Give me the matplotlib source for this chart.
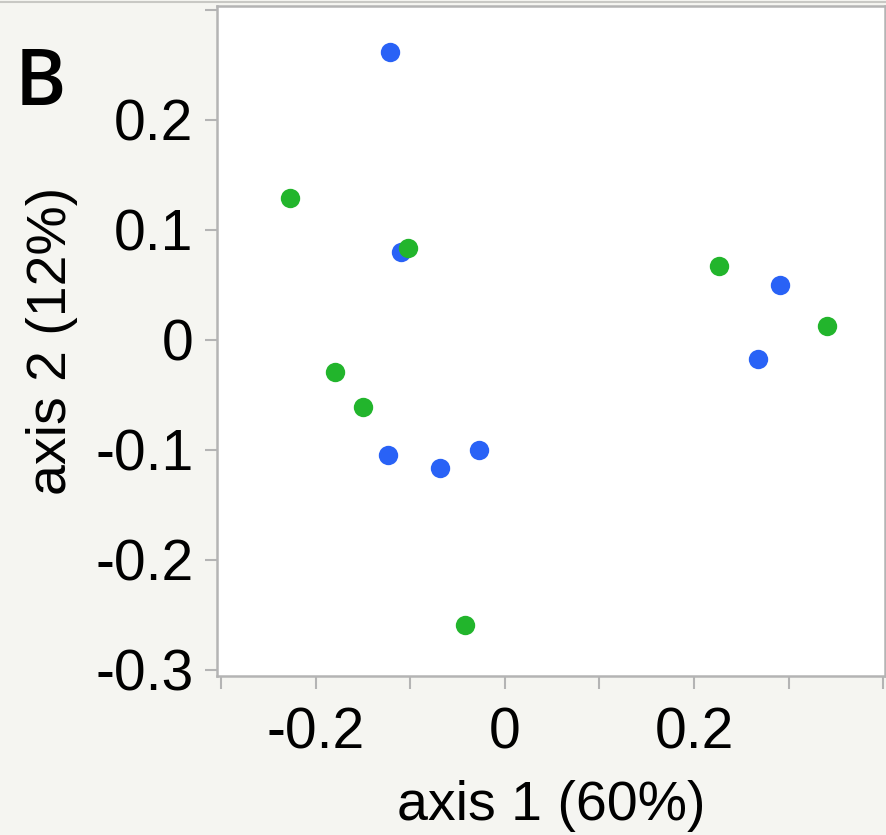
import matplotlib.pyplot as plt
from matplotlib.lines import Line2D

# axis 1 / axis 2 coordinates
blue_x = [-0.121, -0.110, -0.123, -0.068, -0.027, 0.291, 0.268]
blue_y = [0.262, 0.080, -0.105, -0.116, -0.100, 0.050, -0.0175]
green_x = [-0.2266, -0.1025, -0.1795, -0.150, -0.042, 0.227, 0.341]
green_y = [0.129, 0.0834, -0.0288, -0.061, -0.259, 0.067, 0.0125]

x_ticks = [-0.3, -0.2, -0.1, 0, 0.1, 0.2, 0.3, 0.4]
x_labels = ["", "-0.2", "", "0", "", "0.2", "", ""]
y_ticks = [0.3, 0.2, 0.1, 0, -0.1, -0.2, -0.3]
y_labels = ["", "0.2", "0.1", "0", "-0.1", "-0.2", "-0.3"]

bg = "#f5f5f1"
spine = "#b4b4b4"

plt.rcParams['font.family'] = ['Liberation Sans', 'DejaVu Sans']

fig = plt.figure(figsize=(8.86, 8.35), dpi=100, facecolor=bg)
ax = fig.add_axes([217 / 886, 1 - 676 / 835, 668 / 886, 670 / 835])
ax.set_facecolor("white")

ax.scatter(blue_x, blue_y, s=195, color="#2962f6", linewidths=0, zorder=3)
ax.scatter(green_x, green_y, s=195, color="#22b52c", linewidths=0, zorder=4)

ax.set_xlim(-0.3043, 0.402)
ax.set_ylim(-0.3055, 0.3036)

ax.set_xticks(x_ticks)
ax.set_xticklabels(x_labels)
ax.set_yticks(y_ticks)
ax.set_yticklabels(y_labels)
ax.tick_params(axis="both", direction="out", length=9, width=1.5, color=spine,
               labelsize=41, labelcolor="black")
ax.tick_params(axis="x", pad=13)
ax.tick_params(axis="y", pad=8)

for s in ax.spines.values():
    s.set_color(spine)
    s.set_linewidth(1.8)

ax.set_xlabel("axis 1 (60%)", fontsize=40, labelpad=14)
ax.set_ylabel("axis 2 (12%)", fontsize=40, labelpad=12)

# thin frame line along the top edge
fig.add_artist(Line2D([0, 1], [1 - 1.5 / 835, 1 - 1.5 / 835], color="#c8c8c4",
                      linewidth=1.5, transform=fig.transFigure))

fig.text(15 / 886, 1 - 105 / 835, "B", fontsize=56, fontweight="semibold",
         family=["Open Sans", "DejaVu Sans"], ha="left", va="baseline")

fig.savefig("out.png", dpi=100, facecolor=bg)
